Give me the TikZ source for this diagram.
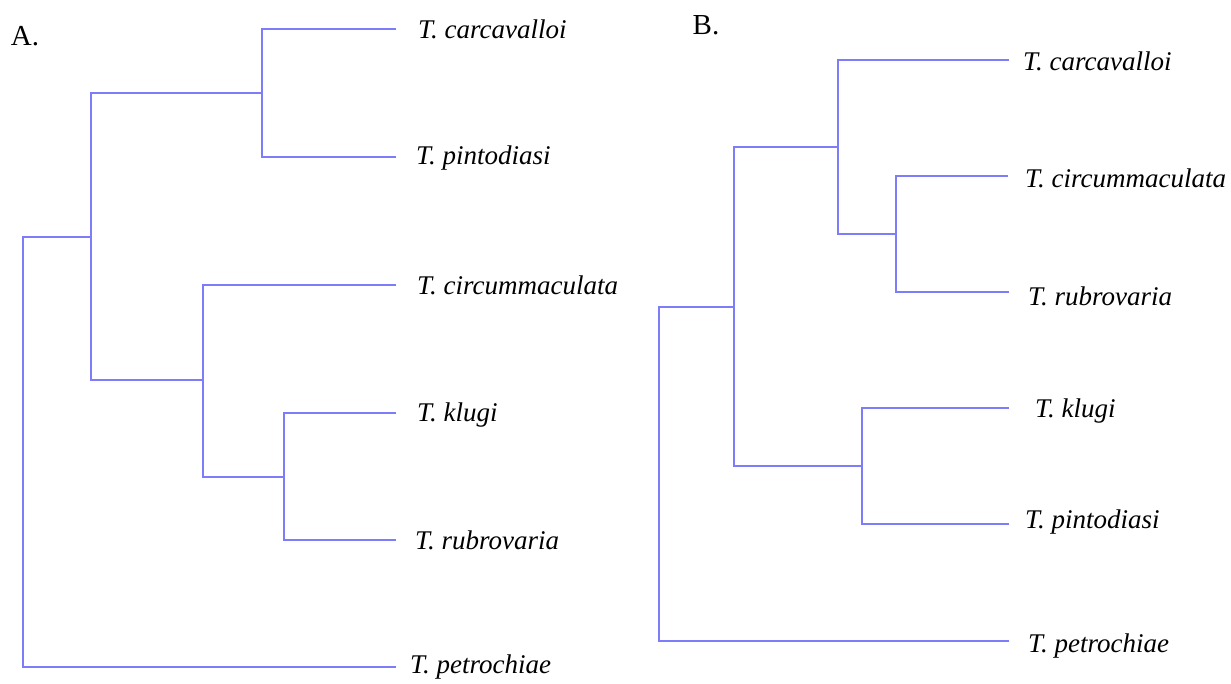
\documentclass[tikz,border=0pt]{standalone}
\usepackage{fontspec}
\setmainfont{Liberation Serif}
\begin{document}
\begin{tikzpicture}[x=1pt,y=-1pt,
  branch/.style={draw={rgb,255:red,125;green,125;blue,250}, line width=1.4pt, line cap=rect},
  taxon/.style={anchor=base west, inner sep=0pt, font=\fontsize{27}{30}\selectfont\itshape},
  panel/.style={anchor=center, inner sep=0pt, font=\fontsize{29}{32}\selectfont}]
\useasboundingbox[fill=white] (0,0) rectangle (1231,683);

% ---------- Panel A ----------
\node[panel] (labA) at (25,36) {A.};
\coordinate (rA) at (23,237);
\coordinate (aAB) at (91,237);
\coordinate (a1) at (262,93);
\coordinate (a2) at (203,380);
\coordinate (a3) at (284,477);
\coordinate (tAcar) at (395,29);
\coordinate (tApin) at (395,157);
\coordinate (tAcir) at (395,285);
\coordinate (tAklu) at (395,413);
\coordinate (tArub) at (395,540);
\coordinate (tApet) at (395,667);

\draw[branch] (rA) |- (aAB);
\draw[branch] (rA) |- (tApet);
\draw[branch] (aAB) |- (a1);
\draw[branch] (aAB) |- (a2);
\draw[branch] (a1) |- (tAcar);
\draw[branch] (a1) |- (tApin);
\draw[branch] (a2) |- (tAcir);
\draw[branch] (a2) |- (a3);
\draw[branch] (a3) |- (tAklu);
\draw[branch] (a3) |- (tArub);

\node[taxon] (nAcar) at (418,38) {T. carcavalloi};
\node[taxon] (nApin) at (416,164) {T. pintodiasi};
\node[taxon] (nAcir) at (417,294) {T. circummaculata};
\node[taxon] (nAklu) at (417,421) {T. klugi};
\node[taxon] (nArub) at (415,549) {T. rubrovaria};
\node[taxon] (nApet) at (410,673) {T. petrochiae};

% ---------- Panel B ----------
\node[panel] (labB) at (706,25) {B.};
\coordinate (rB) at (659,307);
\coordinate (b1) at (734,307);
\coordinate (b2) at (838,147);
\coordinate (b3) at (862,466);
\coordinate (b4) at (896,234);
\coordinate (tBcar) at (1008,60);
\coordinate (tBcir) at (1007,176);
\coordinate (tBrub) at (1008,292);
\coordinate (tBklu) at (1008,408);
\coordinate (tBpin) at (1008,524);
\coordinate (tBpet) at (1008,641);

\draw[branch] (rB) |- (b1);
\draw[branch] (rB) |- (tBpet);
\draw[branch] (b1) |- (b2);
\draw[branch] (b1) |- (b3);
\draw[branch] (b2) |- (tBcar);
\draw[branch] (b2) |- (b4);
\draw[branch] (b4) |- (tBcir);
\draw[branch] (b4) |- (tBrub);
\draw[branch] (b3) |- (tBklu);
\draw[branch] (b3) |- (tBpin);

\node[taxon] (nBcar) at (1023,70) {T. carcavalloi};
\node[taxon] (nBcir) at (1025,187) {T. circummaculata};
\node[taxon] (nBrub) at (1028,305) {T. rubrovaria};
\node[taxon] (nBklu) at (1035,417) {T. klugi};
\node[taxon] (nBpin) at (1025,528) {T. pintodiasi};
\node[taxon] (nBpet) at (1028,652) {T. petrochiae};
\end{tikzpicture}
\end{document}
